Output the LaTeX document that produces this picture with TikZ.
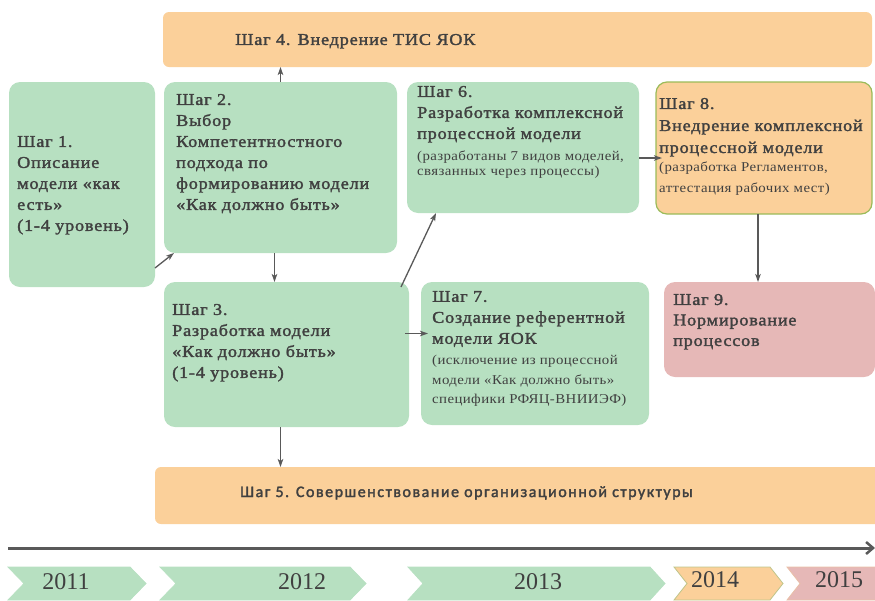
\documentclass[tikz,border=0pt]{standalone}
\usepackage{fontspec}
\setmainfont{Liberation Serif}
\newfontfamily\bsf{Liberation Serif}[FakeBold=1.8, FakeStretch=1.1, LetterSpace=5]
\newfontfamily\ssf{Liberation Serif}[FakeStretch=1.1, LetterSpace=3]
\newfontfamily\calb{Carlito}[FakeBold=2, LetterSpace=9.5]
\usetikzlibrary{arrows.meta}
\definecolor{grn}{HTML}{B7E0C1}
\definecolor{org}{HTML}{FBD09A}
\definecolor{pnk}{HTML}{E6B8B7}
\definecolor{tg}{HTML}{404040}
\definecolor{ag}{HTML}{595959}
\definecolor{brd}{HTML}{9BBB59}
\definecolor{brd2}{HTML}{BFC58A}
\definecolor{brd3}{HTML}{E9C0A8}
\newcommand\chevr[5]{% xl, xr, depth, fill, draw
  \path[fill=#4,draw=#5,line width=0.8pt] (#1,567) -- (#2,567) -- ++(#3,16.5) -- ++(-#3,16.5) -- (#1,600) -- ++(#3,-16.5) -- cycle;}
\begin{document}
\begin{tikzpicture}[x=1pt,y=-1pt,
  box/.style={rounded corners=11pt, inner sep=0pt, outer sep=0pt, anchor=north west},
  gbox/.style={box, fill=grn},
  obox/.style={box, fill=org},
  pbox/.style={box, fill=pnk},
  txt/.style={text=tg, align=left, inner sep=0pt, anchor=north west},
  big/.style={txt, font=\bsf\fontsize{16.5}{21}\selectfont},
  small/.style={txt, font=\ssf\fontsize{13.5}{15}\selectfont},
  year/.style={font=\fontsize{24}{24}\selectfont, text=tg, inner sep=0pt, anchor=base},
  arr/.style={draw=ag, line width=1.3pt, -{Stealth[length=8pt,width=5.5pt,inset=2pt]}},
]
\useasboundingbox (0,0) rectangle (875,600);

% boxes
\node[obox, rounded corners=6pt, minimum width=709, minimum height=55] (s4) at (163,12) {};
\node[gbox, minimum width=146, minimum height=205] (s1) at (9,82) {};
\node[gbox, minimum width=233, minimum height=171] (s2) at (164,82) {};
\node[gbox, minimum width=245, minimum height=145] (s3) at (164,282) {};
\node[gbox, minimum width=232, minimum height=131] (s6) at (407,82) {};
\node[gbox, minimum width=228, minimum height=143] (s7) at (421,282) {};
\node[obox, draw=brd, line width=1.2pt, minimum width=216, minimum height=132] (s8) at (656,82) {};
\node[pbox, minimum width=211, minimum height=95] (s9) at (664,282) {};
\node[obox, rounded corners=6pt, minimum width=740, minimum height=57] (s5) at (155,467) {};

% texts
\node[big] (t4) at (235,33.8) {Шаг 4. Внедрение ТИС ЯОК};
\node[big] (t1) at (17,135.8) {Шаг 1.\\Описание\\модели «как\\есть»\\(1-4 уровень)};
\node[big] (t2) at (176,93.8) {Шаг 2.\\Выбор\\Компетентностного\\подхода по\\формированию модели\\«Как должно быть»};
\node[big] (t3) at (172,303.8) {Шаг 3.\\Разработка модели\\«Как должно быть»\\(1-4 уровень)};
\node[big] (t6) at (417,85.8) {Шаг 6.\\Разработка комплексной\\процессной модели};
\node[small] (t6s) at (417,151) {(разработаны 7 видов моделей,\\связанных через процессы)};
\node[big] (t7) at (432,290.8) {Шаг 7.\\Создание референтной\\модели ЯОК};
\node[small, font=\ssf\fontsize{13.5}{19.5}\selectfont] (t7s) at (432,355) {(исключение из процессной\\модели «Как должно быть»\\специфики РФЯЦ-ВНИИЭФ)};
\node[big, font=\bsf\fontsize{16.5}{22}\selectfont] (t8) at (659,97.8) {Шаг 8.\\Внедрение комплексной\\процессной модели};
\node[small, font=\ssf\fontsize{13.5}{21}\selectfont] (t8s) at (659,162) {(разработка Регламентов,\\аттестация рабочих мест)};
\node[big, font=\bsf\fontsize{16.5}{20.5}\selectfont] (t9) at (673,293.8) {Шаг 9.\\Нормирование\\процессов};
\node[font=\calb\fontsize{16}{20}\selectfont, text=tg, inner sep=0pt, anchor=base west] (t5) at (240,497) {Шаг 5. Совершенствование организационной структуры};

% connectors
\draw[arr] (s2.north) -- (s2.north |- s4.south);
\draw[arr] ([yshift=19pt]s1.south east) -- ([xshift=10pt]s2.south west);
\draw[arr] ([xshift=-6pt]s2.south) -- ([xshift=-6pt]s2.south |- s3.north);
\draw[arr] ([xshift=-8pt,yshift=-5pt]s3.north east) -- ([xshift=29pt]s6.south west);
\draw[arr] ([xshift=-4pt,yshift=21pt]s3.east) -- ([xshift=7pt,yshift=20pt]s7.west);
\draw[arr] ([yshift=-10.5pt]s6.east) -- ([xshift=6pt,yshift=-10pt]s8.west);
\draw[arr] ([xshift=-6pt]s8.south) -- ([xshift=-6pt]s8.south |- s9.north);
\draw[arr] ([xshift=-6pt]s3.south) -- ([xshift=-6pt]s3.south |- s5.north);

% timeline
\coordinate (tl0) at (8,548);
\coordinate (tl1) at (875,548);
\draw[draw=ag, line width=3pt, -{Straight Barb[length=7pt,width=12pt,line width=2.5pt]}] (tl0) -- (tl1);

\chevr{8}{130}{16}{grn}{grn}
\chevr{160}{350}{16}{grn}{grn}
\chevr{408}{650}{15}{grn}{grn}
\chevr{674}{770}{13}{org}{brd2}
\chevr{787}{900}{13}{pnk}{brd3}

\node[year] (y1) at (66,589) {2011};
\node[year] (y2) at (302,589) {2012};
\node[year] (y3) at (538,589) {2013};
\node[year] (y4) at (715,587) {2014};
\node[year] (y5) at (839,587) {2015};
\end{tikzpicture}
\end{document}
